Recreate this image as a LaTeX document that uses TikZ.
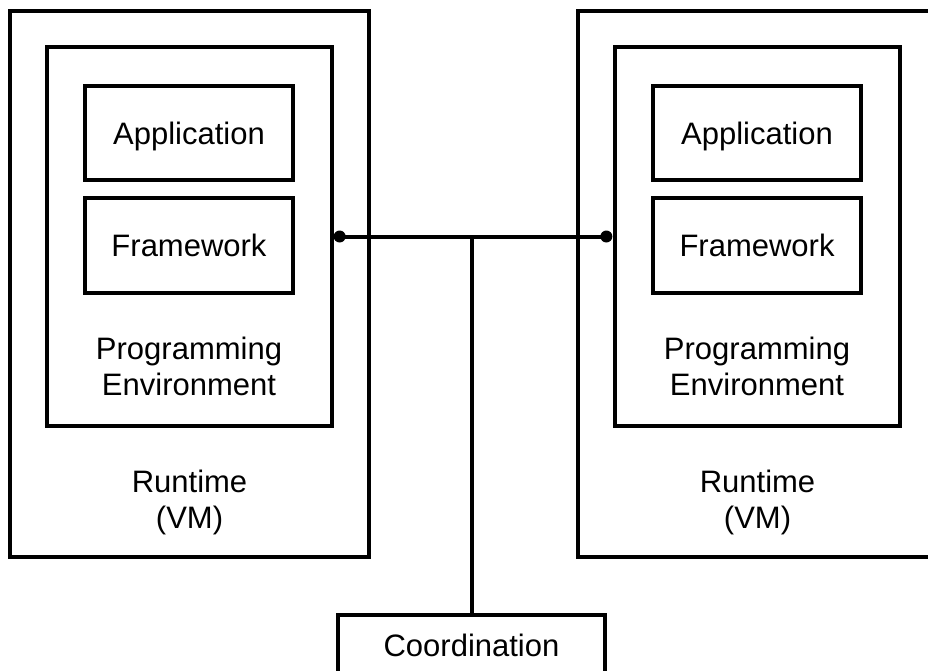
\documentclass[tikz,border=0pt]{standalone}
\usepackage{fontspec}
\setmainfont{Liberation Sans}
\begin{document}
\begin{tikzpicture}[x=1pt,y=-1pt,line width=3.3pt,
    font=\fontsize{31}{36}\selectfont]

      \useasboundingbox (0,0) rectangle (928,670);
      \clip (0,0) rectangle (928,670);

      \begin{scope}[every node/.style={rectangle,draw,inner sep=0pt,text height=22pt,text depth=0pt}]
        \node[minimum width=359,minimum height=546] (outerL) at (189.5,284) {};
        \node[minimum width=285,minimum height=379] (innerL) at (189.5,236.5) {};
        \node[minimum width=208,minimum height=94]  (appL)   at (189,133)   {Application};
        \node[minimum width=208,minimum height=95]  (fwL)    at (189,245.5) {Framework};
        \node[minimum width=359,minimum height=546] (outerR) at (757.5,284) {};
        \node[minimum width=285,minimum height=379] (innerR) at (757.5,236.5) {};
        \node[minimum width=208,minimum height=94]  (appR)   at (757,133)   {Application};
        \node[minimum width=208,minimum height=95]  (fwR)    at (757,245.5) {Framework};
        \node[minimum width=267,minimum height=60]  (coord)  at (471.5,645) {Coordination};
      \end{scope}

      \begin{scope}[every node/.style={align=center}]
        \node (envL) at (189,366) {Programming\\Environment};
        \node (envR) at (757,366) {Programming\\Environment};
        \node (rtL)  at (189.5,502) {Runtime\\(VM)};
        \node (rtR)  at (757.5,502) {Runtime\\(VM)};
      \end{scope}

      \begin{scope}[every node/.style={circle,fill,inner sep=0pt,minimum size=12pt}]
        \node[xshift=6pt]  (dotL) at (innerL.east) {};
        \node[xshift=-7pt] (dotR) at (innerR.west) {};
      \end{scope}

      \coordinate (jn) at (coord.north |- dotL.center);
      \draw[line width=4pt] (dotL.center) -- (dotR.center);
      \draw[line width=4pt] (jn) -- (coord.north);

    \end{tikzpicture}
\end{document}
